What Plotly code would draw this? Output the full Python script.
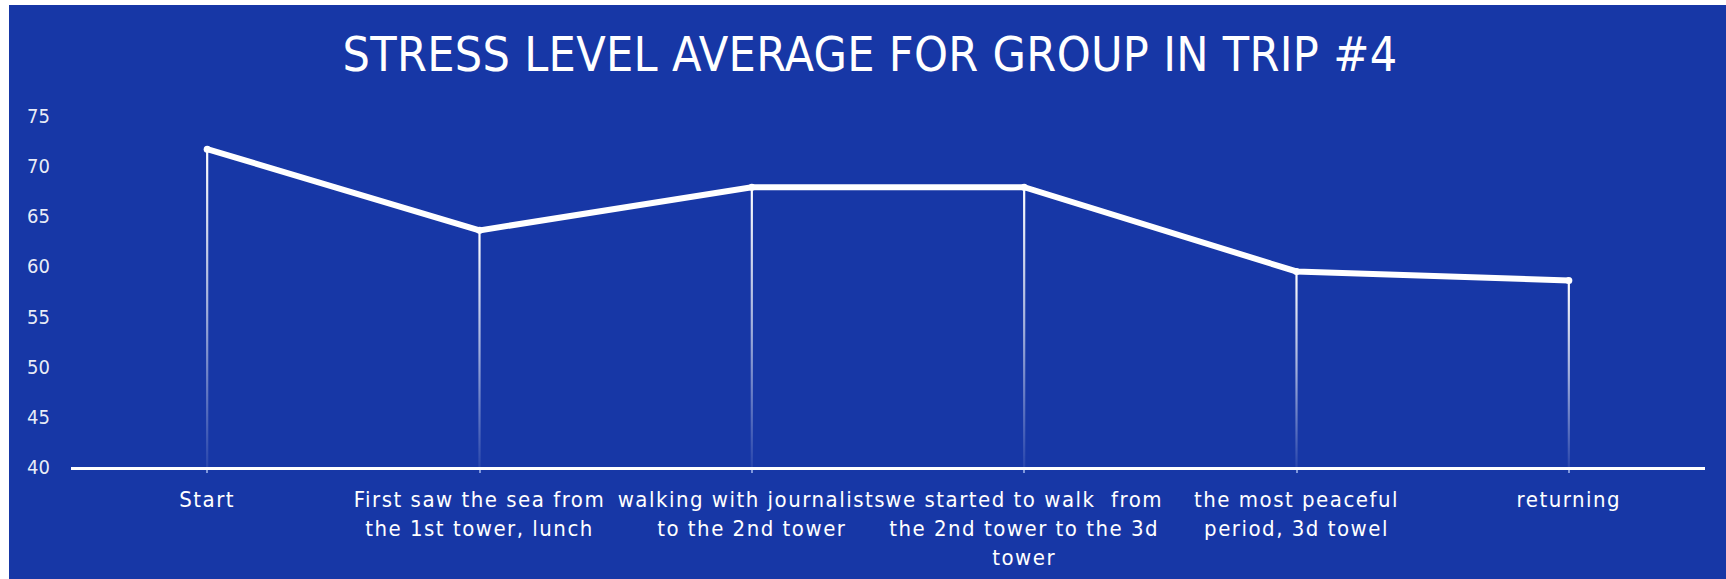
import plotly.graph_objects as go

# ---- data ----
categories = [
    "Start",
    "First saw the sea from<br>the 1st tower, lunch",
    "walking with journalists<br>to the 2nd tower",
    "we started to walk  from<br>the 2nd tower to the 3d<br>tower",
    "the most peaceful<br>period, 3d towel",
    "returning",
]
stress_avg = [71.7, 63.6, 67.9, 67.9, 59.5, 58.6]
y_tick_values = [40, 45, 50, 55, 60, 65, 70, 75]
title_text = "STRESS LEVEL AVERAGE FOR GROUP IN TRIP #4"

# ---- style / layout constants ----
W, H = 1726, 579
BLUE = "#1737A6"
FONT = "DejaVu Sans Condensed, Liberation Sans, sans-serif"
M_L, M_R, M_T, M_B = 71, 21, 96, 112
Y_MIN, Y_MAX = 40, 77
plot_w = W - M_L - M_R
plot_h = H - M_T - M_B
x_idx = list(range(len(categories)))
x_range = [-0.5, len(categories) - 0.5]
px_per_x = plot_w / (x_range[1] - x_range[0])
half_w = 1.1 / px_per_x  # drop line half-width in data units

fig = go.Figure()

# gradient drop lines
for i, v in zip(x_idx, stress_avg):
    fig.add_trace(go.Scatter(
        x=[i - half_w, i + half_w, i + half_w, i - half_w, i - half_w],
        y=[Y_MIN, Y_MIN, v, v, Y_MIN],
        mode="lines", line=dict(width=0), fill="toself",
        fillgradient=dict(type="vertical",
                          colorscale=[[0, "rgba(255,255,255,0.08)"],
                                      [0.5, "rgba(255,255,255,0.6)"],
                                      [1, "rgba(255,255,255,1)"]]),
        hoverinfo="skip", showlegend=False,
    ))

# main line
fig.add_trace(go.Scatter(
    x=x_idx, y=stress_avg, mode="lines+markers",
    line=dict(color="white", width=6),
    marker=dict(color="white", size=7),
    showlegend=False,
    hovertemplate="%{y}<extra></extra>",
))

# white edge strips of the original screenshot (paper coords)
def px_to_paper_x(px):
    return (px - M_L) / plot_w

def px_to_paper_y(py):
    return (H - M_B - py) / plot_h

fig.add_shape(type="rect", xref="paper", yref="paper",
              x0=px_to_paper_x(0), x1=px_to_paper_x(9),
              y0=px_to_paper_y(H), y1=px_to_paper_y(0),
              fillcolor="white", line=dict(width=0), layer="above")
fig.add_shape(type="rect", xref="paper", yref="paper",
              x0=px_to_paper_x(0), x1=px_to_paper_x(W),
              y0=px_to_paper_y(5), y1=px_to_paper_y(0),
              fillcolor="white", line=dict(width=0), layer="above")

fig.update_layout(
    width=W, height=H,
    margin=dict(l=M_L, r=M_R, t=M_T, b=M_B, autoexpand=False),
    paper_bgcolor=BLUE, plot_bgcolor=BLUE,
    title=dict(text=title_text, x=870 / W, xanchor="center",
               y=1 - 54 / H, yanchor="middle", yref="container",
               font=dict(family=FONT, size=48, color="white")),
    xaxis=dict(range=x_range, tickmode="array", tickvals=x_idx, ticktext=categories,
               tickangle=0, showgrid=False, zeroline=False,
               showline=True, linecolor="white", linewidth=3,
               ticks="outside", ticklen=3, tickwidth=2, tickcolor="#7f97dc",
               ticklabelstandoff=8,
               tickfont=dict(family=FONT, size=22, color="white")),
    yaxis=dict(range=[Y_MIN, Y_MAX], tickmode="array", tickvals=y_tick_values,
               showgrid=False, zeroline=False, showline=False,
               ticklabelstandoff=20,
               tickfont=dict(family=FONT, size=20, color="rgba(255,255,255,0.92)")),
    hovermode="closest",
)

post = """
document.body.style.margin = '0';
var s = document.createElement('style');
s.textContent = 'body{margin:0;} .xtick text{letter-spacing:1.5px;} text.gtitle{letter-spacing:0.3px;}';
document.head.appendChild(s);
"""

fig.write_html("out.html", post_script=post, config={"displayModeBar": False})
